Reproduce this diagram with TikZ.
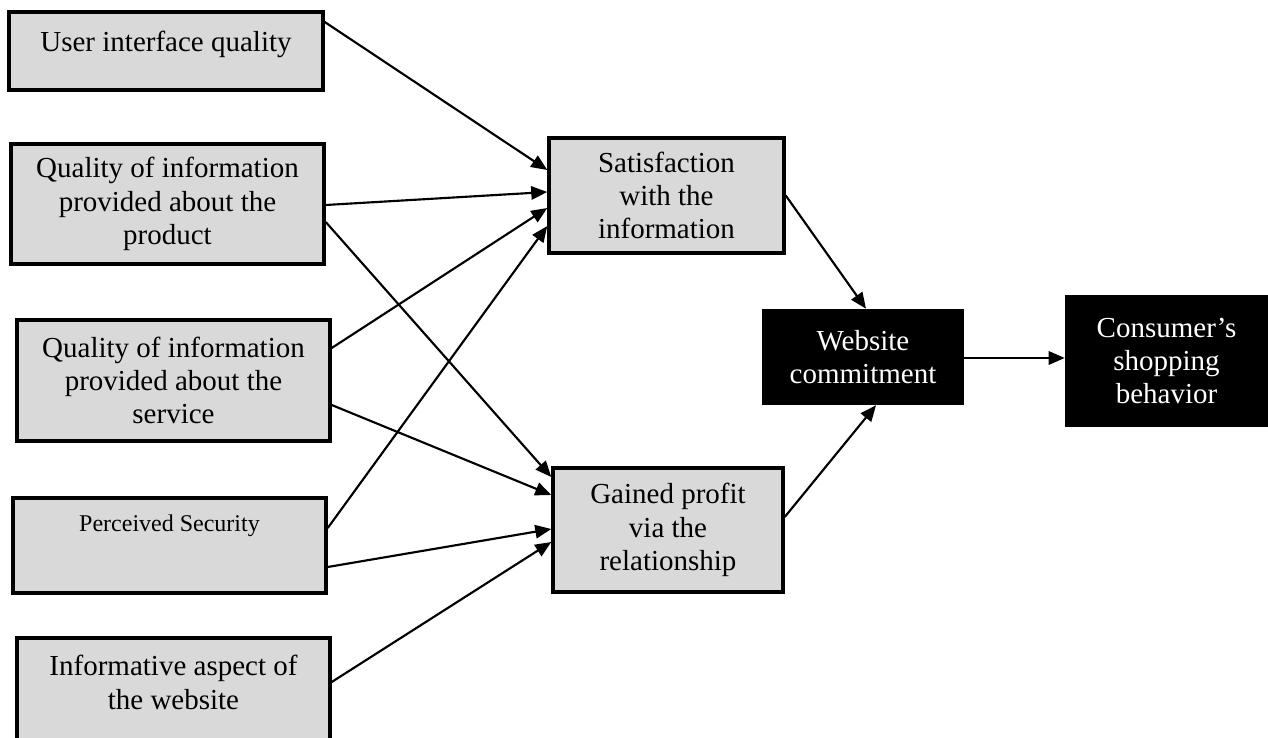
\documentclass[tikz,border=0pt]{standalone}
\usepackage{fontspec}
\setmainfont{Liberation Serif}
\usetikzlibrary{arrows.meta,calc}
\definecolor{boxgray}{HTML}{D9D9D9}
\newcommand{\boxfont}{\fontsize{21.75}{25}\selectfont}
\newcommand{\smallboxfont}{\fontsize{18}{21}\selectfont}
\tikzset{
  box/.style={draw=black, line width=2.6pt, fill=boxgray, inner sep=0pt, align=center, font=\boxfont},
  dark/.style={fill=black, text=white, inner sep=0pt, align=center, font=\boxfont},
  caption/.style={inner sep=0pt, align=center, font=\boxfont},
  link/.style={line width=1.6pt, -{Triangle[length=12pt,width=10pt]}},
}
\begin{document}
\begin{tikzpicture}[x=0.75pt,y=-0.75pt]
\clip (0,0) rectangle (1268,738);

% antecedents (left column)
\node[box, minimum width=235.5pt, minimum height=58.5pt] (b1) at (166,51) {};
\node[caption, anchor=north] (t1) at ($(b1.north)+(0,21)$) {User interface quality};

\node[box, minimum width=234.75pt, minimum height=90pt] (b2) at (167.5,204)
  {Quality of information\\provided about the\\product};

\node[box, minimum width=234.75pt, minimum height=90.75pt] (b3) at (173.5,380.5)
  {Quality of information\\provided about the\\service};

\node[box, minimum width=234.75pt, minimum height=71.25pt] (b4) at (169.5,545.5) {};
\node[caption, font=\smallboxfont, anchor=north] (t4) at ($(b4.north)+(0,18)$) {Perceived Security};

\node[box, minimum width=234.75pt, minimum height=76.5pt] (b5) at (173.5,689) {};
\node[caption, anchor=north] (t5) at ($(b5.north)+(0,19)$) {Informative aspect of\\the website};

% mediators
\node[box, minimum width=176.25pt, minimum height=86.25pt] (sat) at (666.5,195.5)
  {Satisfaction\\with the\\information};
\node[box, minimum width=172.5pt, minimum height=93pt] (gain) at (668,530)
  {Gained profit\\via the\\relationship};

% outcomes
\node[dark, minimum width=151.5pt, minimum height=72pt] (web) at (863,357)
  {Website\\commitment};
\node[dark, minimum width=152.25pt, minimum height=99pt] (cons) at (1166.5,361)
  {Consumer's\\shopping\\behavior};

% paths
\draw[link] ($(b1.east)+(0,-29)$) -- ($(sat.west)+(0,-25.5)$);
\draw[link] ($(b2.east)+(0,1)$) -- ($(sat.west)+(0,-3.5)$);
\draw[link] ($(b2.east)+(0,18)$) -- ($(gain.west)+(0,-53)$);
\draw[link] ($(b3.east)+(0,-32.5)$) -- ($(sat.west)+(0,12.5)$);
\draw[link] ($(b4.east)+(0,-17.5)$) -- ($(sat.west)+(0,30.5)$);
\draw[link] ($(b3.east)+(0,24.5)$) -- ($(gain.west)+(0,-35)$);
\draw[link] ($(b4.east)+(0,21.5)$) -- ($(gain.west)+(0,-1)$);
\draw[link] ($(b5.east)+(0,-7)$) -- ($(gain.west)+(0,12)$);
\draw[link] (sat.east) -- ($(web.north)+(3,0)$);
\draw[link] ($(gain.east)+(0,-13)$) -- ($(web.south)+(13,0)$);
\draw[link] ($(web.east)+(0,1)$) -- ($(cons.west)+(0,-3)$);
\end{tikzpicture}
\end{document}
